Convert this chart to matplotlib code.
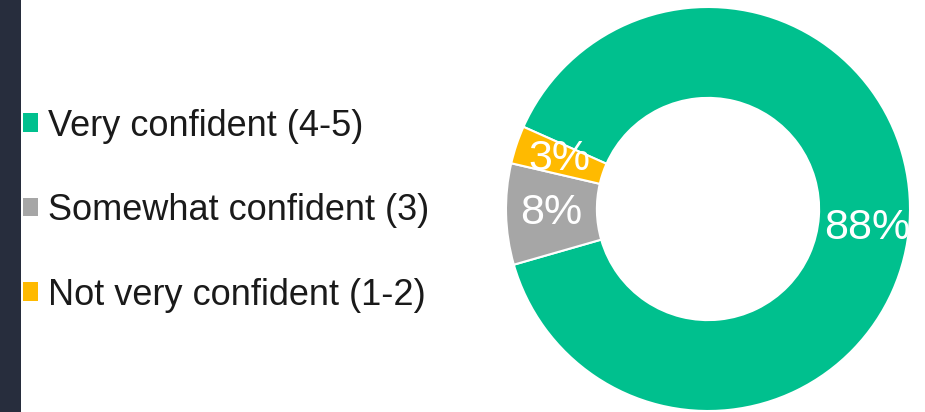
import matplotlib
matplotlib.use("Agg")
import matplotlib.pyplot as plt
from matplotlib.patches import Rectangle

# datos del grafico
categories = ["Very confident (4-5)", "Somewhat confident (3)", "Not very confident (1-2)"]
values = [88, 8, 3]
colors = ["#00C08E", "#A6A6A6", "#FFBA00"]

fig = plt.figure(figsize=(9.25, 4.12), dpi=100)
fig.patch.set_facecolor("white")

# franja oscura a la izquierda
fig.patches.append(Rectangle((0, 0), 21 / 925, 1, transform=fig.transFigure,
                             facecolor="#272D3D", edgecolor="none", zorder=0))

# dona
cx, cy, r = 708, 412 - 209, 202
ax = fig.add_axes([(cx - r) / 925, (cy - r) / 412, 2 * r / 925, 2 * r / 412])
wedges, texts, pcts = ax.pie(
    values, colors=colors, startangle=156, counterclock=False,
    autopct="%d%%", pctdistance=0.775,
    wedgeprops=dict(width=0.45, edgecolor="white", linewidth=1.5),
    textprops=dict(color="white", fontsize=31, family="Liberation Sans"),
)
# etiqueta del 88% movida como en el original
pcts[0].set_position((0.79, -0.094))
ax.set_xlim(-1, 1)
ax.set_ylim(-1, 1)
ax.set_aspect("equal")
for w in wedges:
    w.set_clip_on(False)

# leyenda
fig.legend(wedges, categories, loc="center left", bbox_to_anchor=(23 / 925, 0.489),
           frameon=False, borderpad=0, borderaxespad=0,
           handlelength=0.42, handleheight=0.42, handletextpad=0.28,
           labelspacing=1.37,
           prop=dict(family="Liberation Sans", size=26), labelcolor="#1a1a1a")
for h in fig.legends[0].legend_handles:
    h.set_edgecolor("none")

fig.savefig("out.png", dpi=100)
